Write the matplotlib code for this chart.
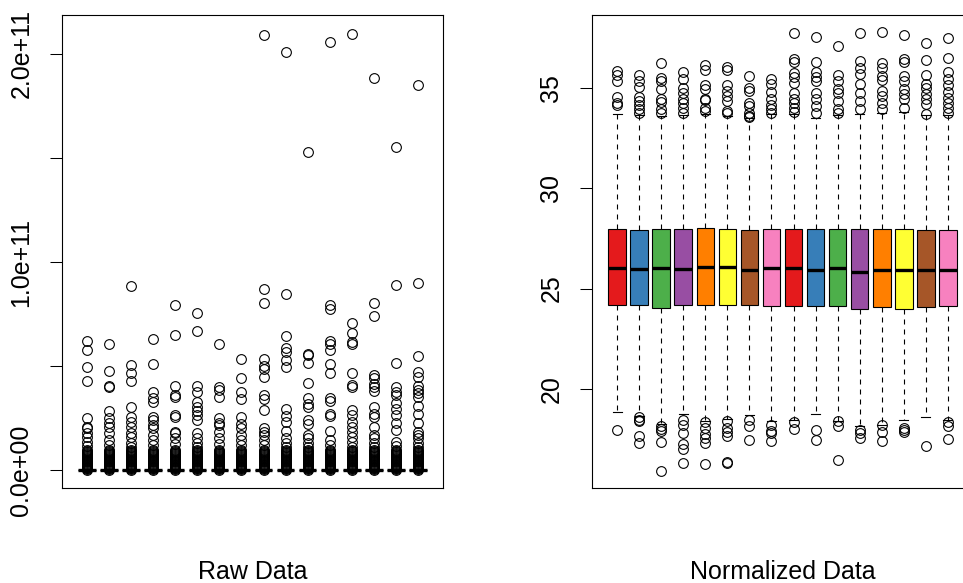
import matplotlib
matplotlib.use('Agg')
from matplotlib import pyplot as plt

# Raw data boxes (values in units of 1e9), all boxes squashed at zero
raw_q1 = [0.0] * 16
raw_med = [0.05] * 16
raw_q3 = [0.15] * 16
raw_lo = [0.0] * 16
raw_hi = [0.35] * 16

# very dense cluster of small outliers shared by every sample
raw_dense = [0.2, 0.5, 0.8, 1.1, 1.4, 1.7, 2.0, 2.3, 2.6, 3.0, 3.4, 3.8,
             4.2, 4.6, 5.0, 5.4, 5.8, 6.2, 6.7, 7.2, 7.7, 8.2, 8.7, 9.3, 9.9]

raw_out = [
    [62.0, 57.7, 49.7, 42.6, 24.8, 20.8, 20.0, 18.0, 16.0, 13.5, 11.5],
    [60.7, 47.4, 40.2, 40.1, 28.4, 24.8, 22.4, 20.8, 17.6, 14.4, 12.0],
    [88.6, 50.5, 46.5, 42.6, 30.4, 25.6, 23.2, 20.8, 17.6, 16.0, 13.0, 11.0],
    [62.8, 51.0, 37.7, 34.5, 32.9, 25.6, 24.0, 21.6, 20.0, 16.8, 14.4, 12.0],
    [79.2, 64.7, 40.2, 36.1, 35.0, 26.4, 25.3, 18.4, 17.6, 15.2, 12.5],
    [75.5, 67.0, 40.3, 37.5, 32.9, 30.4, 28.4, 26.4, 24.3, 17.6, 15.5, 13.0, 11.0],
    [60.7, 40.1, 38.5, 35.0, 24.8, 22.8, 21.6, 18.4, 15.2, 12.5],
    [53.4, 44.2, 37.3, 34.2, 25.3, 22.1, 20.0, 16.8, 14.4, 12.0],
    [209.0, 86.9, 80.1, 53.4, 50.0, 48.4, 44.7, 35.9, 34.3, 28.8, 20.0, 18.4,
     16.8, 14.4, 12.0],
    [201.0, 84.8, 64.4, 58.5, 56.9, 52.9, 49.4, 29.6, 25.8, 23.2, 18.9, 15.2,
     12.8, 11.0],
    [152.7, 55.8, 55.1, 51.6, 42.0, 34.5, 31.7, 30.4, 24.0, 22.1, 16.8, 15.2,
     12.8, 11.0],
    [205.8, 79.3, 77.2, 62.2, 60.6, 57.7, 51.2, 46.5, 34.5, 33.4, 27.0, 26.0,
     18.9, 14.4, 12.0],
    [209.8, 70.8, 66.0, 61.4, 60.6, 46.6, 40.7, 40.1, 28.8, 26.4, 23.2, 20.8,
     18.4, 16.0, 13.5, 11.2],
    [188.3, 80.1, 74.0, 45.8, 44.1, 41.6, 40.1, 38.0, 30.4, 27.0, 25.6, 20.8,
     16.8, 15.2, 13.0, 11.2],
    [155.3, 88.9, 51.4, 39.9, 37.7, 36.1, 32.1, 29.6, 26.4, 22.4, 19.2, 13.6, 11.5],
    [185.3, 89.8, 55.0, 47.0, 44.9, 40.3, 38.6, 36.9, 35.0, 31.0, 27.0, 22.7,
     18.4, 16.8, 15.2, 13.0, 11.0],
]

# Normalized data boxes
norm_q1 = [24.2, 24.2, 24.03, 24.2, 24.17, 24.2, 24.2, 24.12,
           24.15, 24.15, 24.12, 23.98, 24.07, 23.98, 24.07, 24.15]
norm_med = [26.03, 26.0, 26.03, 26.0, 26.07, 26.08, 25.95, 26.02,
            26.02, 25.95, 26.03, 25.83, 25.92, 25.92, 25.95, 25.92]
norm_q3 = [27.98, 27.92, 27.95, 27.95, 28.02, 27.98, 27.9, 27.95,
           27.98, 27.95, 27.95, 27.95, 27.95, 27.98, 27.9, 27.92]
norm_lo = [18.83, 18.62, 18.23, 18.73, 18.37, 18.48, 18.67, 18.37,
           18.42, 18.75, 18.37, 18.12, 18.2, 18.42, 18.58, 18.42]
norm_hi = [33.7, 33.65, 33.62, 33.65, 33.7, 33.62, 33.5, 33.7,
           33.7, 33.5, 33.68, 33.72, 33.75, 33.8, 33.65, 33.65]

norm_out = [
    [35.87, 35.65, 35.37, 34.58, 34.28, 34.15, 17.95],
    [35.65, 35.37, 35.08, 34.58, 34.37, 34.15, 33.95, 33.75,
     18.58, 18.45, 18.37, 17.62, 17.32],
    [36.28, 35.53, 35.37, 34.95, 34.45, 34.32, 33.95, 33.78,
     18.12, 17.98, 17.87, 17.33, 15.92],
    [35.82, 35.45, 35.03, 34.78, 34.45, 34.28, 34.03, 33.78,
     18.45, 18.2, 17.78, 17.25, 17.0, 16.32],
    [36.17, 35.9, 35.15, 34.98, 34.48, 34.4, 34.03, 33.87,
     18.32, 18.03, 17.75, 17.53, 17.28, 16.25],
    [36.07, 35.9, 35.15, 34.87, 34.62, 34.37, 33.87, 33.78,
     18.37, 18.03, 17.82, 17.62, 16.37, 16.28],
    [35.62, 35.03, 34.87, 34.25, 34.12, 33.78, 33.62, 33.55,
     18.45, 18.15, 17.45],
    [35.45, 35.2, 34.82, 34.45, 34.15, 33.95, 33.78,
     18.2, 17.87, 17.78, 17.4],
    [37.73, 36.45, 36.32, 35.75, 35.58, 35.28, 34.78, 34.45, 34.25, 34.03, 33.82,
     18.32, 18.0],
    [37.53, 36.32, 35.82, 35.58, 35.37, 34.78, 34.48, 34.12, 33.78,
     17.95, 17.45],
    [37.12, 35.65, 35.37, 34.95, 34.78, 34.37, 33.95, 33.78,
     18.37, 18.12, 16.45],
    [37.73, 36.37, 36.03, 35.7, 35.2, 34.78, 34.37, 33.95,
     17.95, 17.78, 17.53],
    [37.78, 36.28, 36.03, 35.62, 35.4, 34.87, 34.62, 34.28, 33.95,
     18.17, 17.82, 17.4],
    [37.65, 36.45, 36.32, 35.62, 35.37, 34.95, 34.7, 34.45, 34.03,
     18.03, 17.95, 17.82],
    [37.23, 36.42, 35.65, 35.2, 35.03, 34.7, 34.45, 34.2, 33.7, 17.17],
    [37.5, 36.48, 35.82, 35.45, 35.15, 34.82, 34.53, 34.28, 34.03, 33.78,
     18.32, 18.15, 17.48],
]

set1 = ['#E41A1C', '#377EB8', '#4DAF4A', '#984EA3',
        '#FF7F00', '#FFFF33', '#A65628', '#F781BF']

plt.rcParams['font.family'] = ['Liberation Sans', 'DejaVu Sans']

raw_stats = []
for i in range(16):
    raw_stats.append({
        'q1': raw_q1[i] * 1e9, 'med': raw_med[i] * 1e9, 'q3': raw_q3[i] * 1e9,
        'whislo': raw_lo[i] * 1e9, 'whishi': raw_hi[i] * 1e9,
        'fliers': [v * 1e9 for v in raw_dense + raw_out[i]],
    })

norm_stats = []
for i in range(16):
    norm_stats.append({
        'q1': norm_q1[i], 'med': norm_med[i], 'q3': norm_q3[i],
        'whislo': norm_lo[i], 'whishi': norm_hi[i], 'fliers': norm_out[i],
    })

fig = plt.figure(figsize=(9.63, 5.83), dpi=100)
ax1 = fig.add_axes([62 / 963, 1 - 488 / 583, 381 / 963, 473 / 583])
ax2 = fig.add_axes([592 / 963, 1 - 488 / 583, 381 / 963, 473 / 583])

pos = list(range(1, 17))
common = dict(
    positions=pos, widths=0.8, capwidths=0.4, patch_artist=True,
    medianprops=dict(color='black', linewidth=2.4, solid_capstyle='butt'),
    whiskerprops=dict(color='black', linewidth=0.8, linestyle=(0, (4.5, 4.5))),
    capprops=dict(color='black', linewidth=0.8),
    flierprops=dict(marker='o', markersize=7, markerfacecolor='none',
                    markeredgecolor='black', markeredgewidth=0.8),
)

ax1.bxp(raw_stats, boxprops=dict(facecolor='white', edgecolor='black',
                                 linewidth=0.8), **common)
b2 = ax2.bxp(norm_stats, boxprops=dict(edgecolor='black', linewidth=0.8),
             **common)
for i, box in enumerate(b2['boxes']):
    box.set_facecolor(set1[i % 8])

ax1.set_xlim(-0.14, 17.14)
ax2.set_xlim(-0.14, 17.14)
ax1.set_ylim(-8.6e9, 218.7e9)
ax2.set_ylim(15.05, 38.65)

ax1.set_yticks([0, 5e10, 1e11, 1.5e11, 2e11])
ax1.set_yticklabels(['0.0e+00', '', '1.0e+11', '', '2.0e+11'])
ax2.set_yticks([20, 25, 30, 35])
ax2.set_yticklabels(['20', '25', '30', '35'])

for ax, title in [(ax1, 'Raw Data'), (ax2, 'Normalized Data')]:
    ax.set_xticks([])
    ax.tick_params(axis='y', direction='out', length=8.6, width=0.75,
                   pad=12, labelsize=18)
    for lab in ax.get_yticklabels():
        lab.set_rotation(90)
        lab.set_va('center')
    for sp in ax.spines.values():
        sp.set_linewidth(0.8)
    ax.text(0.5, -91 / 473, title, transform=ax.transAxes, ha='center',
            va='baseline', fontsize=18)

fig.savefig('out.png', dpi=100)
